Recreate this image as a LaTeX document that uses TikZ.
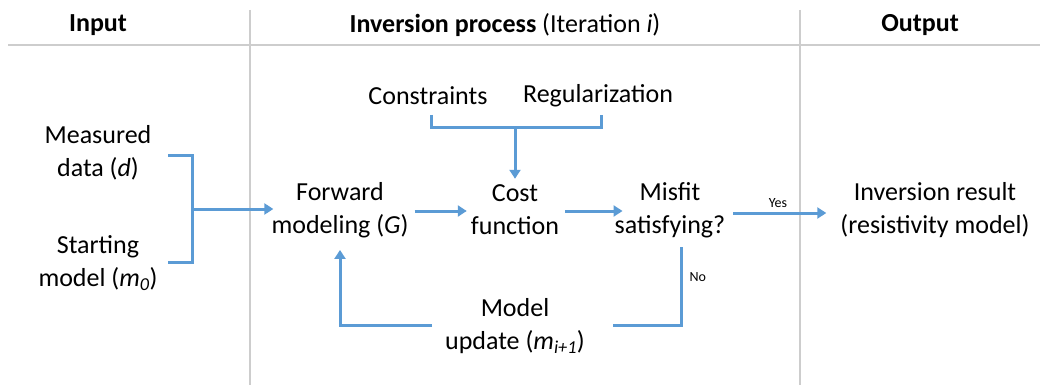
\documentclass[tikz,border=0pt]{standalone}
\usepackage{fontspec}
\setmainfont{Carlito}
\usetikzlibrary{arrows.meta, positioning, calc}
\definecolor{flowblue}{RGB}{91,155,213}
\definecolor{sepgray}{RGB}{205,205,205}
\tikzset{
  lbl/.style={align=center, font=\fontsize{26}{33}\selectfont, inner sep=2pt},
  head/.style={font=\fontsize{26}{30}\selectfont},
  tag/.style={font=\fontsize{14}{16}\selectfont, inner sep=3pt},
  flow/.style={draw=flowblue, line width=3pt},
  arr/.style={flow, -{Triangle[length=9pt, width=11pt]}},
  sep/.style={draw=sepgray, line width=1.2pt},
}
\begin{document}
\begin{tikzpicture}[x=1pt, y=-1pt]
    \useasboundingbox (0,0) rectangle (1040,385);
    % column separators
    \draw[sep, line width=2pt] (8,45) -- (1040,45);
    \draw[sep] (250,10) -- (250,385);
    \draw[sep] (800,10) -- (800,385);
    % headers
    \node[head] (hin) at (98,25) {\textbf{Input}};
    \node[head] (hproc) at (505,25) {\textbf{Inversion process} (Iteration \textit{i})};
    \node[head] (hout) at (920,25) {\textbf{Output}};
    % input
    \node[lbl] (meas) at (98,153) {Measured\\data (\textit{d})};
    \node[lbl] (start) at (98,263) {Starting\\model (\textit{m\textsubscript{0}})};
    % inversion process
    \node[lbl] (fwd) at (340,210) {Forward\\modeling (\textit{G})};
    \node[lbl] (cost) at (515,210) {Cost\\function};
    \node[lbl] (misfit) at (670,210) {Misfit\\satisfying?};
    \node[lbl] (constr) at (428,96) {Constraints};
    \node[lbl] (regul) at (598,96) {Regularization};
    \node[lbl] (update) at (515,326) {Model\\update (\textit{m\textsubscript{i+1}})};
    % output
    \node[lbl] (result) at (935,210) {Inversion result\\(resistivity model)};
    % input bracket
    \coordinate (jin) at (192,209);
    \coordinate (mtop) at (168,155);
    \coordinate (mbot) at (168,262);
    \draw[flow] (mtop) -| (jin) |- (mbot);
    \draw[arr, shorten >=-4pt] (jin) -- (fwd.west |- jin);
    % top bracket
    \coordinate (jtop) at (515,127);
    \coordinate (cb) at (431,115);
    \coordinate (rb) at (601,115);
    \draw[flow] (cb) |- (jtop) -| (rb);
    \draw[arr, shorten >=4pt] (jtop) -- (cost.north);
    % main flow
    \draw[arr, shorten <=4pt, shorten >=2pt] ([yshift=-1pt]fwd.east) -- ([yshift=-1pt]cost.west);
    \draw[arr, shorten <=4pt, shorten >=-10pt] ([yshift=-1pt]cost.east) -- ([yshift=-1pt]misfit.west);
    \draw[arr, shorten <=6pt, shorten >=12pt] ([yshift=-3pt]misfit.east) -- node[tag, above, xshift=-5pt, yshift=1pt] {Yes} ([yshift=-3pt]result.west);
    % feedback loop
    \coordinate (nob) at (681,247);
    \coordinate (ul) at (432,325);
    \coordinate (ur) at (613,325);
    \draw[flow] (nob) |- node[tag, right, pos=0.19, xshift=4pt] {No} (ur);
    \draw[arr, shorten >=10pt] (ul) -| (fwd.south);
\end{tikzpicture}
\end{document}
